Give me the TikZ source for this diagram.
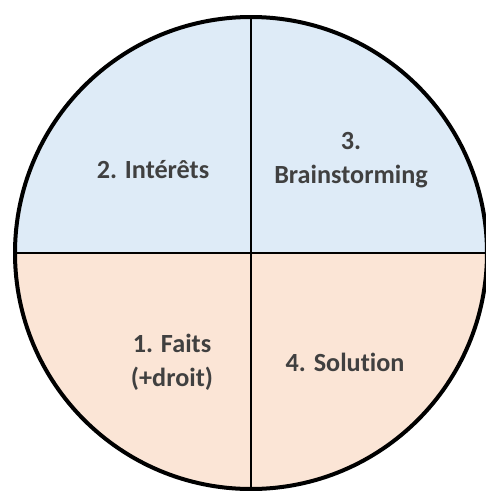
\documentclass[tikz,border=0pt]{standalone}
\usepackage{fontspec}
\setmainfont{Carlito}[Ligatures=NoCommon]
\usepackage{tikz}
\definecolor{quadtop}{RGB}{222,235,247}
\definecolor{quadbottom}{RGB}{251,229,214}
\definecolor{quadtext}{RGB}{64,64,64}

\begin{document}
\begin{tikzpicture}[x=1pt, y=-1pt,
    quadlabel/.style={font=\fontsize{26.2}{34}\selectfont\bfseries, text=quadtext, align=center, inner sep=0pt, anchor=base}]
    \useasboundingbox (0,0) rectangle (486,491);
    \coordinate (c) at (251,253);
    \coordinate (top) at (251,17);
    \coordinate (bottom) at (251,489);
    \coordinate (left) at (15,253);
    \coordinate (right) at (487,253);

    % Two halves
    \fill[quadtop] (left) arc[start angle=180, end angle=360, radius=236] -- cycle;
    \fill[quadbottom] (right) arc[start angle=0, end angle=180, radius=236] -- cycle;

    % Dividers and outline
    \draw[line width=1.3pt] (top) -- (bottom);
    \draw[line width=1.3pt] (left) -- (right);
    \draw[line width=4pt] (c) circle[radius=236];

    % Labels
    \node[quadlabel] (interets) at (153,178) {2. Intérêts};
    \node[quadlabel] (brainstorming) at (351,183) {3.\\Brainstorming};
    \node[quadlabel] (faits) at (172,386) {1. Faits\\(+droit)};
    \node[quadlabel] (solution) at (345,371) {4. Solution};

\end{tikzpicture}
\end{document}
